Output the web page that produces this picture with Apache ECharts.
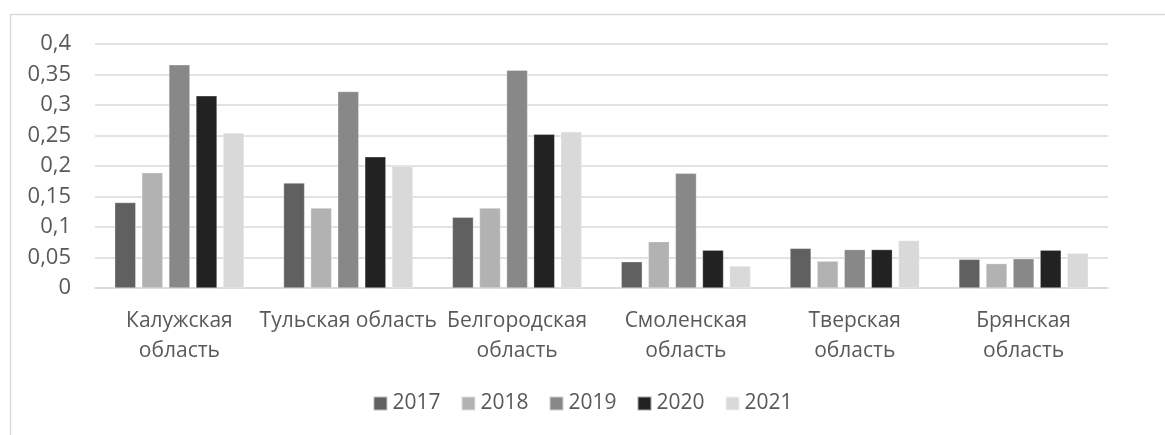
<!DOCTYPE html>
<html>
<head>
<meta charset="utf-8">
<script src="https://cdn.jsdelivr.net/npm/echarts@6/dist/echarts.min.js"></script>
<style>
  html, body { margin: 0; padding: 0; background: #fff; }
  #chart { width: 1165px; height: 435px; }
</style>
</head>
<body>
<div id="chart"></div>
<script>
const regions = [
  'Калужская\nобласть',
  'Тульская область',
  'Белгородская\nобласть',
  'Смоленская\nобласть',
  'Тверская\nобласть',
  'Брянская\nобласть'
]
const years = ['2017', '2018', '2019', '2020', '2021']
const v2017 = [0.140, 0.172, 0.116, 0.043, 0.065, 0.047]
const v2018 = [0.189, 0.131, 0.131, 0.076, 0.044, 0.040]
const v2019 = [0.366, 0.322, 0.357, 0.188, 0.063, 0.048]
const v2020 = [0.315, 0.215, 0.252, 0.062, 0.063, 0.062]
const v2021 = [0.254, 0.200, 0.256, 0.036, 0.078, 0.057]
const colors = ['#606060', '#b2b2b2', '#888888', '#222222', '#d9d9d9']

const font = '"Open Sans", "Noto Sans", sans-serif'
const textColor = '#595959'

const chart = echarts.init(document.getElementById('chart'))
const values = [v2017, v2018, v2019, v2020, v2021]

chart.setOption({
  animation: false,
  color: colors,
  graphic: [
    {
      type: 'rect',
      shape: { x: 10.5, y: 14.5, width: 1200, height: 500 },
      style: { fill: 'none', stroke: '#d9d9d9', lineWidth: 1.5 },
      silent: true
    }
  ],
  grid: { left: 95, right: 57, top: 44, bottom: 147 },
  legend: {
    data: years,
    left: 'center',
    top: 388,
    itemWidth: 14,
    itemHeight: 14,
    itemGap: 20,
    icon: 'rect',
    textStyle: { color: textColor, fontSize: 21, fontFamily: font }
  },
  xAxis: {
    type: 'category',
    data: regions,
    axisLine: { lineStyle: { color: '#d9d9d9', width: 1.5 } },
    axisTick: { show: false },
    axisLabel: {
      interval: 0,
      color: textColor,
      fontSize: 21,
      fontFamily: font,
      lineHeight: 30,
      margin: 18
    }
  },
  yAxis: {
    type: 'value',
    min: 0,
    max: 0.4,
    interval: 0.05,
    axisLine: { show: false },
    axisTick: { show: false },
    splitLine: { lineStyle: { color: '#d9d9d9', width: 1.5 } },
    axisLabel: {
      color: textColor,
      fontSize: 22,
      fontFamily: font,
      margin: 24,
      formatter: (v) => String(Math.round(v * 100) / 100).replace('.', ',')
    }
  },
  series: years.map((y, i) => ({
    name: y,
    type: 'bar',
    data: values[i],
    barWidth: 21,
    barGap: '29%',
    itemStyle: { borderColor: 'rgba(255,255,255,0.6)', borderWidth: 0.5 }
  }))
})
</script>
</body>
</html>
